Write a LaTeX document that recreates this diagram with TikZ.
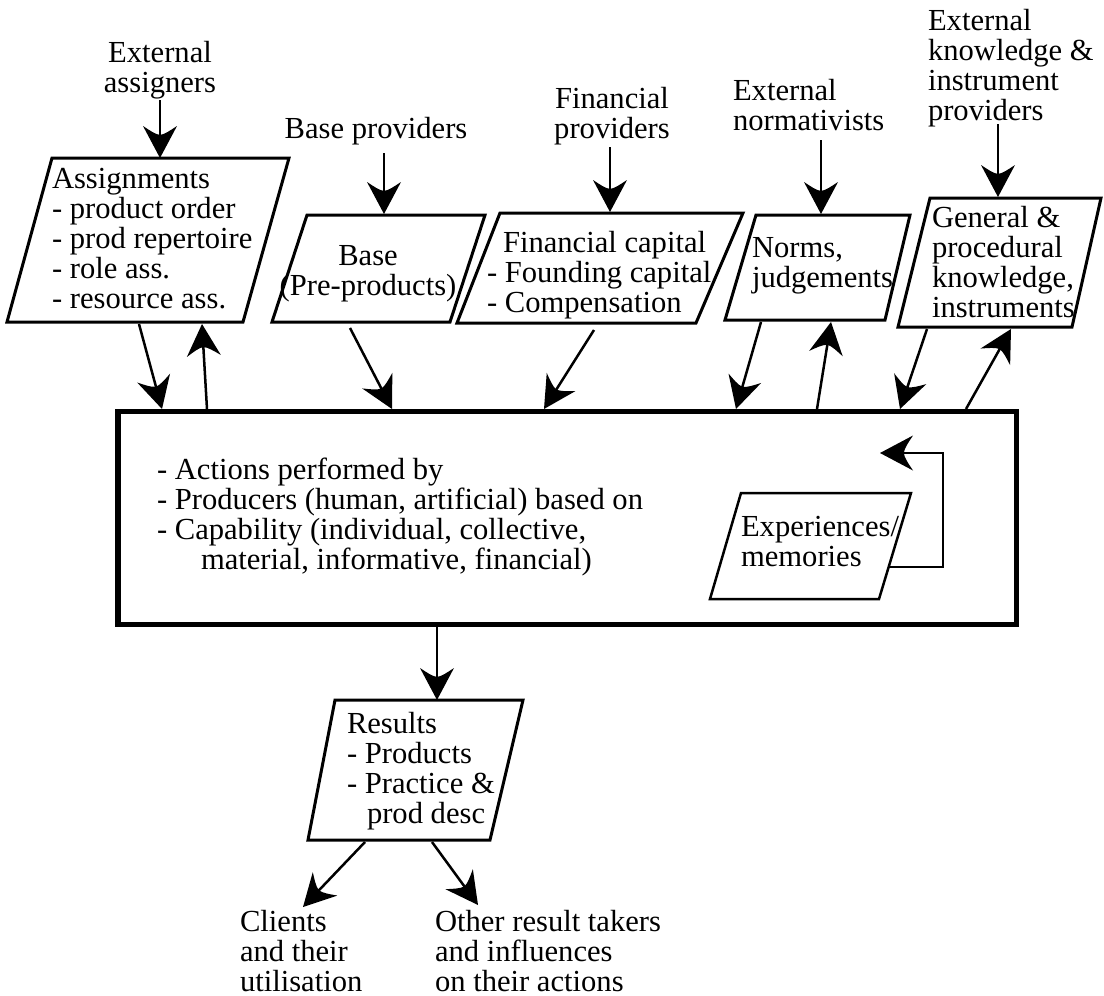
\documentclass[tikz,border=0pt]{standalone}
\usepackage{fontspec}
\setmainfont{Liberation Serif}
\usetikzlibrary{arrows.meta}

% filled head: straight sides, flaring barbs and a hollowed back
\pgfdeclarearrow{
  name = Barbed,
  parameters = {\the\pgfarrowlength,\the\pgfarrowwidth},
  setup code = {
    \pgfarrowssettipend{0pt}
    \pgfarrowssetbackend{-\pgfarrowlength}
    \pgfarrowssetlineend{-.6\pgfarrowlength}
    \pgfarrowssavethe\pgfarrowlength
    \pgfarrowssavethe\pgfarrowwidth
  },
  drawing code = {
    \pgfpathmoveto{\pgfqpoint{0pt}{0pt}}
    \pgfpathlineto{\pgfqpoint{-\pgfarrowlength}{.5\pgfarrowwidth}}
    \pgfpathcurveto{\pgfqpoint{-.86\pgfarrowlength}{.3\pgfarrowwidth}}
                   {\pgfqpoint{-.74\pgfarrowlength}{.14\pgfarrowwidth}}
                   {\pgfqpoint{-.72\pgfarrowlength}{0pt}}
    \pgfpathcurveto{\pgfqpoint{-.74\pgfarrowlength}{-.14\pgfarrowwidth}}
                   {\pgfqpoint{-.86\pgfarrowlength}{-.3\pgfarrowwidth}}
                   {\pgfqpoint{-\pgfarrowlength}{-.5\pgfarrowwidth}}
    \pgfpathclose
    \pgfusepathqfill
  },
  defaults = {length = 32pt, width = 34pt}
}

\tikzset{
  txt/.style={font=\fontsize{30.6}{30}\selectfont, inner sep=0pt, outer sep=0pt, align=left},
  ctxt/.style={txt, align=center},
  para/.style={line width=3pt, line join=miter},
  mainbox/.style={draw, line width=5.5pt, rectangle, inner sep=0pt},
  flow/.style={line width=2.5pt, -{Barbed[length=32pt, width=34pt]}},
  loopline/.style={line width=2pt, -{Barbed[length=33pt, width=35pt]}}
}

\begin{document}
\begin{tikzpicture}[x=1pt, y=-1pt]
\useasboundingbox (0,0) rectangle (1104,996);

% multi-line texts are placed by the baseline of their last line

% ---- sources at the top ----
\node[ctxt, anchor=base] (extasg) at (160,92) {External\\assigners};
\node[ctxt, anchor=base] (basepr) at (376,138) {Base providers};
\node[ctxt, anchor=base] (finpr) at (612,138) {Financial\\providers};
\node[txt, anchor=base west] (extnorm) at (733,130) {External\\normativists};
\node[txt, anchor=base west] (extknow) at (928,120) {External\\knowledge \&\\instrument\\providers};

% ---- input stores ----
\draw[para] (52,158) -- (289,158) -- (243,322) -- (7,322) -- cycle;
\node[txt, anchor=base west] (asg) at (52,308)
  {Assignments\\- product order\\- prod repertoire\\- role ass.\\- resource ass.};

\draw[para] (307,215) -- (485,215) -- (450,322) -- (272,322) -- cycle;
\node[ctxt, anchor=base] (base) at (368,295) {Base\\(Pre-products)};

\draw[para] (500,213) -- (743,213) -- (696,323) -- (457,323) -- cycle;
\node[txt, anchor=base west] (fin1) at (503,252) {Financial capital};
\node[txt, anchor=base west] (fin2) at (487,312) {- Founding capital\\- Compensation};

\draw[para] (756,215) -- (910,215) -- (885,320) -- (725,320) -- cycle;
\node[txt, anchor=base west] (norms) at (752,287) {Norms,\\judgements};

\draw[para] (930,198) -- (1101,198) -- (1072,327) -- (898,327) -- cycle;
\node[txt, anchor=base west] (know) at (932,317) {General \&\\procedural\\knowledge,\\instruments};

% ---- production ----
\node[mainbox, minimum width=898.5pt, minimum height=213pt] (act) at (567.25,518) {};
\node[txt, anchor=base west] (acttxt) at (157,569)
  {- Actions performed by\\- Producers (human, artificial) based on\\- Capability (individual, collective,\\\hspace*{44pt}material, informative, financial)};

\draw[line width=2.5pt] (741,493) -- (911,493) -- (879,599) -- (710,599) -- cycle;
\node[txt, anchor=base west] (exp) at (741,566) {Experiences/\\memories};

% ---- results ----
\draw[para] (335,700) -- (523,700) -- (490,840) -- (308,840) -- cycle;
\node[txt, anchor=base west] (res) at (347,823)
  {Results\\- Products\\- Practice \&\\\hspace*{20pt}prod desc};

\node[txt, anchor=base west] (clients) at (240,991) {Clients\\and their\\utilisation};
\node[txt, anchor=base west] (others) at (435,991) {Other result takers\\and influences\\on their actions};

% ---- connector end points ----
\coordinate (extasg-out) at (160,100);
\coordinate (asg-top) at (160,158);
\coordinate (basepr-out) at (384,153);
\coordinate (base-top) at (384,214);
\coordinate (finpr-out) at (610,147);
\coordinate (fin-top) at (610,212);
\coordinate (extnorm-out) at (821,140);
\coordinate (norms-top) at (821,214);
\coordinate (extknow-out) at (998,124);
\coordinate (know-top) at (998,197);

\coordinate (asg-out) at (139,324);
\coordinate (asg-in) at (202,324);
\coordinate (act-asg-in) at (162,409);
\coordinate (act-asg-out) at (207,409);
\coordinate (base-out) at (350,328);
\coordinate (act-base-in) at (392,409);
\coordinate (fin-out) at (594,330);
\coordinate (act-fin-in) at (544,409);
\coordinate (norms-out) at (761,322);
\coordinate (norms-in) at (831,322);
\coordinate (act-norms-in) at (736,409);
\coordinate (act-norms-out) at (817,409);
\coordinate (know-out) at (927,329);
\coordinate (know-in) at (1011,329);
\coordinate (act-know-in) at (900,409);
\coordinate (act-know-out) at (966,409);

\coordinate (act-out) at (437,627);
\coordinate (res-top) at (437,700);
\coordinate (res-out1) at (365,842);
\coordinate (res-out2) at (432,842);
\coordinate (clients-in) at (303,907);
\coordinate (others-in) at (478,905);

\coordinate (exp-out) at (888,567);
\coordinate (loop-a) at (943,567);
\coordinate (loop-b) at (943,453);
\coordinate (loop-end) at (880,453);

% ---- connectors ----
\draw[flow] (extasg-out) -- (asg-top);
\draw[flow] (basepr-out) -- (base-top);
\draw[flow] (finpr-out) -- (fin-top);
\draw[flow] (extnorm-out) -- (norms-top);
\draw[flow] (extknow-out) -- (know-top);

\draw[flow] (asg-out) -- (act-asg-in);
\draw[flow] (act-asg-out) -- (asg-in);
\draw[flow] (base-out) -- (act-base-in);
\draw[flow] (fin-out) -- (act-fin-in);
\draw[flow] (norms-out) -- (act-norms-in);
\draw[flow] (act-norms-out) -- (norms-in);
\draw[flow] (know-out) -- (act-know-in);
\draw[flow] (act-know-out) -- (know-in);

\draw[flow] (act-out) -- (res-top);
\draw[flow] (res-out1) -- (clients-in);
\draw[flow] (res-out2) -- (others-in);

\draw[loopline] (exp-out) -- (loop-a) -- (loop-b) -- (loop-end);
\end{tikzpicture}
\end{document}
